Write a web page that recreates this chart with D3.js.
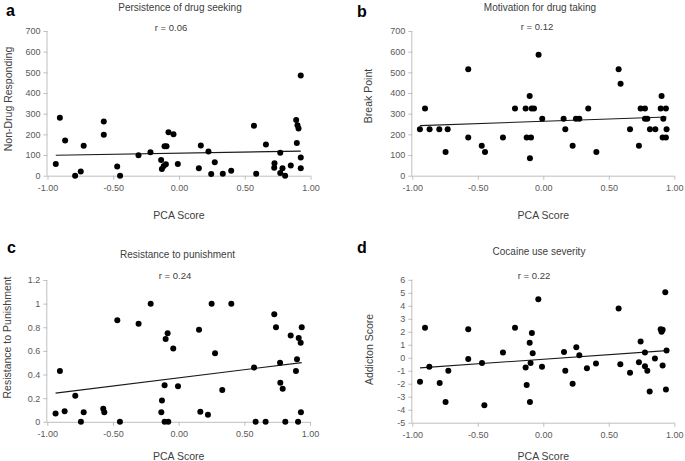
<!DOCTYPE html>
<html><head><meta charset="utf-8">
<script src="https://cdn.jsdelivr.net/npm/d3@7/dist/d3.min.js"></script>
<style>body{margin:0;background:#fff}svg{display:block}</style>
</head><body>
<svg id="chart" width="685" height="461"></svg>
<script>
// ---------- data ----------
const xTickValues = [-1, -0.5, 0, 0.5, 1];

const pcaA = [-0.937,-0.906,-0.866,-0.790,-0.747,-0.725,-0.572,-0.572,-0.470,-0.448,-0.308,-0.217,-0.136,-0.130,-0.116,-0.110,-0.095,-0.100,-0.080,-0.042,-0.009,0.151,0.166,0.224,0.245,0.272,0.333,0.397,0.570,0.587,0.661,0.726,0.724,0.770,0.770,0.787,0.807,0.850,0.891,0.901,0.909,0.896,0.926,0.926,0.926];
const nonDrugResponding = [57,280,170,0,20,145,262,198,44,0,99,113,76,33,47,143,143,55,210,200,57,36,146,117,8,65,10,24,242,10,151,60,39,13,111,36,0,49,270,244,228,158,88,36,485];

const pcaB = [-0.942,-0.903,-0.868,-0.794,-0.746,-0.730,-0.573,-0.573,-0.470,-0.445,-0.308,-0.216,-0.135,-0.127,-0.104,-0.102,-0.094,-0.089,-0.071,-0.036,-0.008,0.155,0.168,0.224,0.249,0.275,0.343,0.405,0.575,0.590,0.662,0.730,0.743,0.776,0.776,0.794,0.814,0.855,0.903,0.896,0.911,0.916,0.936,0.936,0.941];
const breakPoint = [225,325,225,225,115,225,515,185,145,115,185,325,325,185,385,85,185,325,325,585,275,275,225,145,275,275,325,115,515,445,225,145,325,325,275,275,225,225,385,325,185,275,185,325,225];

const pcaC = [-0.937,-0.904,-0.868,-0.787,-0.744,-0.723,-0.574,-0.566,-0.467,-0.447,-0.305,-0.213,-0.132,-0.127,-0.107,-0.099,-0.107,-0.084,-0.079,-0.041,-0.005,0.155,0.165,0.223,0.251,0.277,0.332,0.401,0.574,0.586,0.662,0.728,0.741,0.772,0.774,0.792,0.812,0.853,0.893,0.901,0.909,0.914,0.929,0.931,0.937];
const resistance = [0.07,0.43,0.09,0.22,0,0.08,0.11,0.08,0.86,0,0.83,1.0,0.08,0.18,0.31,0.70,0,0.75,0,0.62,0.30,0.78,0.085,0.06,1.0,0.58,0.27,1.0,0.46,0,0,0.91,0.80,0.50,0.33,0.28,0,0.73,0.43,0.53,0,0.71,0.67,0.08,0.80];

const pcaD = [-0.941,-0.903,-0.870,-0.791,-0.746,-0.725,-0.573,-0.573,-0.468,-0.450,-0.308,-0.216,-0.135,-0.127,-0.104,-0.102,-0.097,-0.087,-0.081,-0.038,-0.010,0.158,0.168,0.224,0.252,0.275,0.333,0.402,0.575,0.588,0.662,0.730,0.743,0.776,0.776,0.794,0.812,0.852,0.896,0.903,0.911,0.911,0.931,0.936,0.941];
const addictionScore = [-1.85,2.3,-0.7,-1.95,-3.4,-1.0,2.2,-0.1,-0.4,-3.65,0.4,2.3,-0.75,-2.1,1.15,-3.4,-0.4,1.9,0.35,4.5,-0.7,0.45,-1.0,-2.0,0.8,0.2,-0.8,-0.45,3.8,-0.5,-1.15,-0.35,1.25,0.4,-0.65,-1.0,-2.6,-0.05,2.2,2.0,2.15,-0.6,5.05,-2.45,0.55];

const ticksA = [0,100,200,300,400,500,600,700];
const ticksC = [0,0.2,0.4,0.6,0.8,1,1.2];
const ticksD = [-5,-4,-3,-2,-1,0,1,2,3,4,5,6];

// ---------- layout ----------
const FONT = "'Liberation Sans', Arial, sans-serif";
const panels = [
  {letter:"a", title:"Persistence of drug  seeking", r:"r = 0.06", ylab:"Non-Drug Responding",
   xs:pcaA, ys:nonDrugResponding, yDomain:[0,700], yTicks:ticksA,
   L:47.5, R:310.5, T:31, B:175.7, letterXY:[6,16], titleXY:[180,11], rXY:[171,30.5],
   ylabXY:[12,99], xlabY:219, xTickY:186.5},
  {letter:"b", title:"Motivation for drug taking", r:"r = 0.12", ylab:"Break Point",
   xs:pcaB, ys:breakPoint, yDomain:[0,700], yTicks:ticksA,
   L:412.3, R:674.3, T:31, B:175.7, letterXY:[357,16.5], titleXY:[540,10.5], rXY:[537,30],
   ylabXY:[372,96], xlabY:219, xTickY:187},
  {letter:"c", title:"Resistance to punishment", r:"r = 0.24", ylab:"Resistance to Punishment",
   xs:pcaC, ys:resistance, yDomain:[0,1.2], yTicks:ticksC,
   L:47.3, R:310, T:280, B:421.8, letterXY:[7,253], titleXY:[177.5,257.5], rXY:[175,279],
   ylabXY:[10.5,337.5], xlabY:459.5, xTickY:438},
  {letter:"d", title:"Cocaine use severity", r:"r = 0.22", ylab:"Addicton Score",
   xs:pcaD, ys:addictionScore, yDomain:[-5,6], yTicks:ticksD,
   L:412.3, R:674.3, T:279.8, B:422.7, letterXY:[357,253], titleXY:[539,255], rXY:[534,279],
   ylabXY:[373,349.5], xlabY:460, xTickY:438}
];

const svg = d3.select("#chart");

panels.forEach(p => {
  const g = svg.append("g");
  const x = d3.scaleLinear().domain([-1,1]).range([p.L, p.R]);
  const y = d3.scaleLinear().domain(p.yDomain).range([p.B, p.T]);

  const ya = g.append("g").attr("transform", `translate(${p.L},0)`)
    .call(d3.axisLeft(y).tickValues(p.yTicks).tickSize(4).tickPadding(3).tickFormat(d => String(d)));
  const xa = g.append("g").attr("transform", `translate(0,${p.B})`)
    .call(d3.axisBottom(x).tickValues(xTickValues).tickSize(4).tickPadding(5).tickFormat(d => d.toFixed(2)));
  [ya, xa].forEach(a => {
    a.select(".domain").attr("stroke", "#bfbfbf").attr("stroke-width", 1);
    a.selectAll(".tick line").attr("stroke", "#bfbfbf");
    a.selectAll(".tick text").attr("fill", "#595959").style("font-family", FONT).style("font-size", "9px");
  });
  xa.select(".domain").attr("d", `M${p.L},0.5H${p.R}`);
  ya.select(".domain").attr("d", `M-0.5,${p.T}V${p.B}`);

  // least-squares trend line
  const pts = p.xs.map((v,i) => [v, p.ys[i]]);
  const mx = d3.mean(pts, d => d[0]), my = d3.mean(pts, d => d[1]);
  const slope = d3.sum(pts, d => (d[0]-mx)*(d[1]-my)) / d3.sum(pts, d => (d[0]-mx)**2);
  const icpt = my - slope*mx;
  const [x0, x1] = d3.extent(p.xs);
  g.append("line")
    .attr("x1", x(x0)).attr("y1", y(icpt + slope*x0))
    .attr("x2", x(x1)).attr("y2", y(icpt + slope*x1))
    .attr("stroke", "#1a1a1a").attr("stroke-width", 1.1);

  g.selectAll("circle.pt").data(pts).join("circle")
    .attr("class","pt")
    .attr("cx", d => x(d[0])).attr("cy", d => y(d[1])).attr("r", 3).attr("fill", "#000");

  g.append("text").attr("x", p.letterXY[0]).attr("y", p.letterXY[1])
    .style("font-family", FONT).style("font-size","16px").style("font-weight","bold").attr("fill","#000").text(p.letter);
  g.append("text").attr("x", p.titleXY[0]).attr("y", p.titleXY[1]).attr("text-anchor","middle")
    .style("font-family", FONT).style("font-size","10px").attr("fill","#404040").text(p.title);
  g.append("text").attr("x", p.rXY[0]).attr("y", p.rXY[1]).attr("text-anchor","middle")
    .style("font-family", FONT).style("font-size","9.5px").attr("fill","#404040").text(p.r);
  g.append("text").attr("transform", `translate(${p.ylabXY[0]},${p.ylabXY[1]}) rotate(-90)`)
    .attr("text-anchor","middle")
    .style("font-family", FONT).style("font-size","10.5px").attr("fill","#404040").text(p.ylab);
  g.append("text").attr("x", (p.L+p.R)/2).attr("y", p.xlabY).attr("text-anchor","middle")
    .style("font-family", FONT).style("font-size","10.5px").attr("fill","#404040").text("PCA Score");
});
</script>
</body></html>
